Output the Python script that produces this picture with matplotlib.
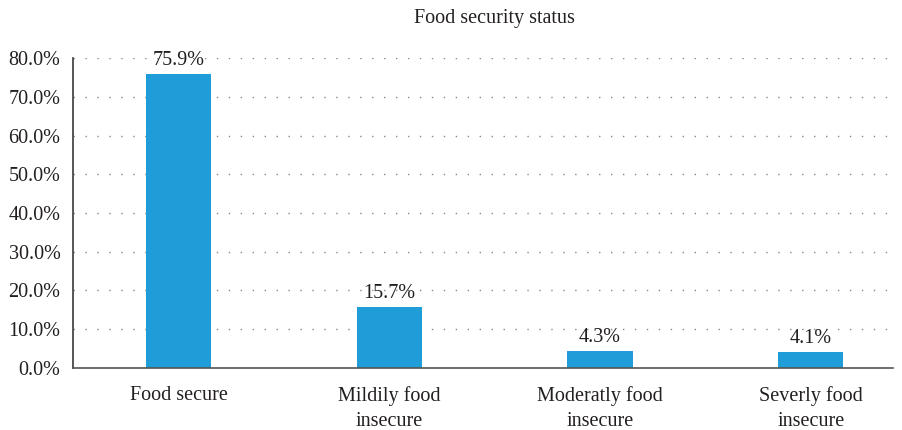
import numpy as np
import matplotlib.pyplot as plt
from matplotlib.ticker import PercentFormatter

categories = ["Food secure", "Mildily food\ninsecure", "Moderatly food\ninsecure", "Severly food\ninsecure"]
values = [75.9, 15.7, 4.3, 4.1]
yticks = [0, 10, 20, 30, 40, 50, 60, 70, 80]

plt.rcParams['font.family'] = ['Liberation Serif', 'DejaVu Serif']
fs = 14.5

fig = plt.figure(figsize=(9.02, 4.30), dpi=100)
ax = fig.add_axes([0.081, 0.1442, 0.909, 0.7209])

x = np.arange(len(categories))
bars = ax.bar(x, values, width=0.31, color='#1e9dd8', zorder=2)

for b, v in zip(bars, values):
    ax.annotate(f"{v:.1f}%", (b.get_x() + b.get_width() / 2, v),
                xytext=(0, 3), textcoords='offset points',
                ha='center', va='bottom', fontsize=fs, color='#231f20')

ax.set_xlim(-0.5, 3.39)
ax.set_ylim(0, 80)
ax.set_yticks(yticks)
ax.yaxis.set_major_formatter(PercentFormatter(decimals=1))
ax.set_xticks(x)
ax.set_xticklabels(categories, fontsize=fs, color='#231f20', linespacing=1.45)
ax.tick_params(axis='y', labelsize=fs, labelcolor='#231f20', length=0, pad=9)
ax.tick_params(axis='x', length=0, pad=13)

ax.grid(axis='y', color='#888888', linestyle=(0, (1, 7.6)), linewidth=1, zorder=0)
for s in ['top', 'right']:
    ax.spines[s].set_visible(False)
ax.spines['left'].set_color('#3a3a3a')
ax.spines['bottom'].set_color('#555555')
ax.spines['left'].set_linewidth(1.2)
ax.spines['bottom'].set_linewidth(1.2)

fig.text(0.548, 0.958, "Food security status", ha='center', va='center', fontsize=fs, color='#231f20')

fig.savefig("out.png", dpi=100)
